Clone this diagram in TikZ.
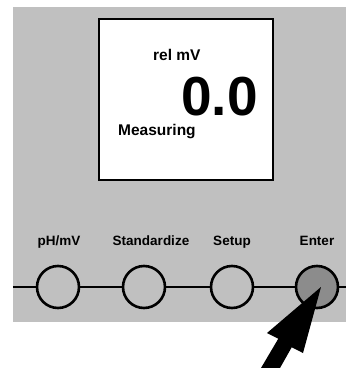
\documentclass[tikz,border=0pt]{standalone}
\usepackage{fontspec}
\setmainfont{Liberation Sans}
\definecolor{panelgray}{RGB}{192,192,192}
\definecolor{pressgray}{RGB}{140,140,140}
\tikzset{
  key/.style={circle, draw=black, line width=2.6pt, fill=panelgray, minimum size=42pt, inner sep=0pt},
  keylabel/.style={font=\bfseries\fontsize{13.5}{14}\selectfont, anchor=base, inner sep=0pt},
  wire/.style={line width=2.2pt}
}
\begin{document}
\begin{tikzpicture}[x=1pt, y=-1pt]
    \useasboundingbox (0, 0) rectangle (346, 368);
    % front panel and display
    \fill[panelgray] (13, 7) rectangle (346, 322);
    \filldraw[fill=white, draw=black, line width=2.4pt] (99, 19) rectangle (273, 180);
    \node[anchor=base west, inner sep=0pt, font=\bfseries\fontsize{15.5}{16}\selectfont] (unit) at (153, 60) {rel mV};
    \node[anchor=base east, inner sep=0pt, font=\bfseries\fontsize{55}{56}\selectfont] (reading) at (258, 115) {0.0};
    \node[anchor=base west, inner sep=0pt, font=\bfseries\fontsize{15.5}{16}\selectfont] (status) at (118, 135) {Measuring};
    % keys
    \node[key] (phmv) at (58, 287) {};
    \node[key] (stdz) at (144, 287) {};
    \node[key] (setup) at (232, 287) {};
    \node[key, fill=pressgray] (enter) at (317, 287) {};
    \node[keylabel] (lphmv) at (59, 245) {pH/mV};
    \node[keylabel] (lstdz) at (151, 245) {Standardize};
    \node[keylabel] (lsetup) at (232, 245) {Setup};
    \node[keylabel] (lenter) at (317, 245) {Enter};
    \coordinate (wl) at (13, 287);
    \coordinate (wr) at (346, 287);
    \draw[wire] (wl) -- (phmv) -- (stdz) -- (setup) -- (enter) -- (wr);
    % pointer
    \fill[black] (321, 287) -- (267, 333) -- (278.3, 338.7) -- (261, 368) -- (280, 368) -- (291.7, 347.3) -- (303, 353) -- cycle;
\end{tikzpicture}
\end{document}
